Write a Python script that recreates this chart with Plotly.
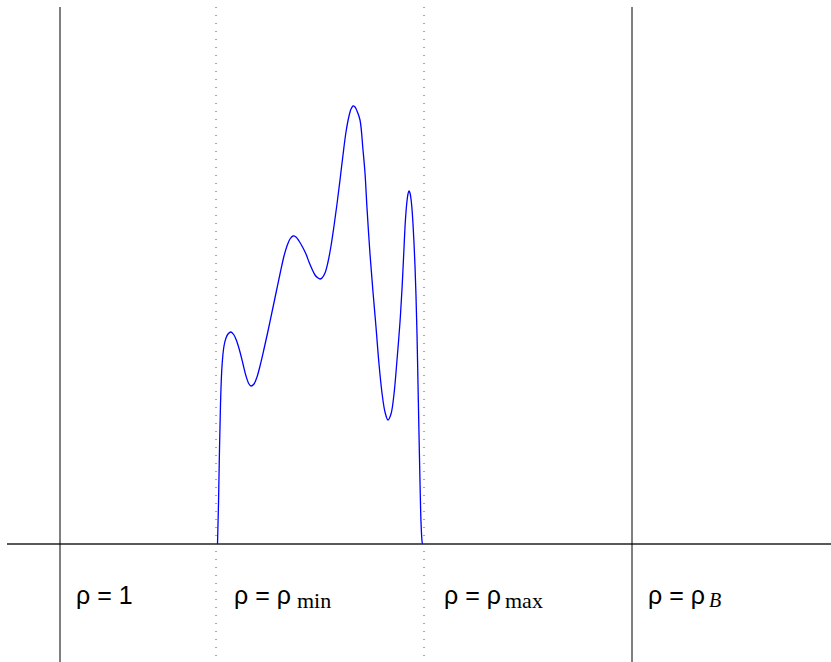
import plotly.graph_objects as go

# Curve: x position, height above the baseline
curve_x = [217.5, 218.5, 219.5, 220.5, 222, 224, 226, 228, 231, 234, 237, 240, 243, 246, 249,
           251, 254, 257, 260, 264, 268, 272, 276, 280, 284, 287, 290, 293, 296, 299, 302,
           306, 309, 312, 315, 318, 320, 322, 325, 328, 331, 334, 337, 340, 343, 346, 349,
           351, 353, 355, 357, 360, 363, 365, 367, 370, 373, 376, 379, 382, 385, 388, 391,
           394, 397, 400, 402, 403, 404, 405, 406, 407, 408, 409, 410, 411, 412, 413, 414,
           415, 416, 417, 418, 419, 420, 421, 422, 422.5]
curve_h = [0, 40, 95, 140, 178, 198, 206, 210, 212, 209, 202, 192, 180, 168, 160,
           158, 160, 167, 178, 195, 213, 232, 251, 270, 288, 298, 305, 308, 307, 303, 298,
           290, 282, 275, 269, 266, 265, 266, 271, 282, 298, 318, 340, 364, 389, 412, 428,
           435, 438, 437, 433, 424, 394, 371, 336, 290, 252, 217, 180, 151, 132, 124, 130,
           150, 184, 222, 255, 275, 296, 317, 332, 343, 350, 353, 351, 345, 335, 320, 301,
           278, 248, 210, 160, 110, 62, 22, 3, 0]

solid_lines = [60, 632]
dotted_lines = [216, 424]

labels_main = ["ρ = 1", "ρ = ρ", "ρ = ρ", "ρ = ρ"]
labels_sub = ["", "min", "max", "<i>B</i>"]

fig = go.Figure()

fig.add_trace(go.Scatter(x=curve_x, y=curve_h, mode="lines",
                         line=dict(color="#0000ff", width=1.3, shape="spline", smoothing=1.0),
                         hoverinfo="skip", showlegend=False))

# baseline
fig.add_shape(type="line", x0=7, x1=831, y0=0, y1=0,
              line=dict(color="#222222", width=1.6))
for xv in solid_lines:
    fig.add_shape(type="line", x0=xv, x1=xv, y0=537, y1=-118,
                  line=dict(color="black", width=1))
for xv in dotted_lines:
    fig.add_shape(type="line", x0=xv, x1=xv, y0=537, y1=-118,
                  line=dict(color="#555555", width=1, dash="1px,7px"))

main_x = [74, 232, 442, 646]
sub_x = [None, 295, 503, 707]
sub_size = [None, 22, 22, 20]
for i, t in enumerate(labels_main):
    fig.add_annotation(x=main_x[i], y=-51, text=t, showarrow=False, xanchor="left",
                       yanchor="middle",
                       font=dict(family="Liberation Sans, Arial", size=25, color="black"))
    if labels_sub[i]:
        fig.add_annotation(x=sub_x[i], y=-56, text=labels_sub[i], showarrow=False,
                           xanchor="left", yanchor="middle",
                           font=dict(family="Liberation Serif, Times New Roman",
                                     size=sub_size[i], color="black"))

fig.update_layout(width=831, height=662, margin=dict(l=0, r=0, t=0, b=0),
                  paper_bgcolor="white", plot_bgcolor="white",
                  xaxis=dict(range=[0, 831], visible=False, fixedrange=True),
                  yaxis=dict(range=[-118, 544], visible=False, fixedrange=True))

fig.write_html("out.html")
